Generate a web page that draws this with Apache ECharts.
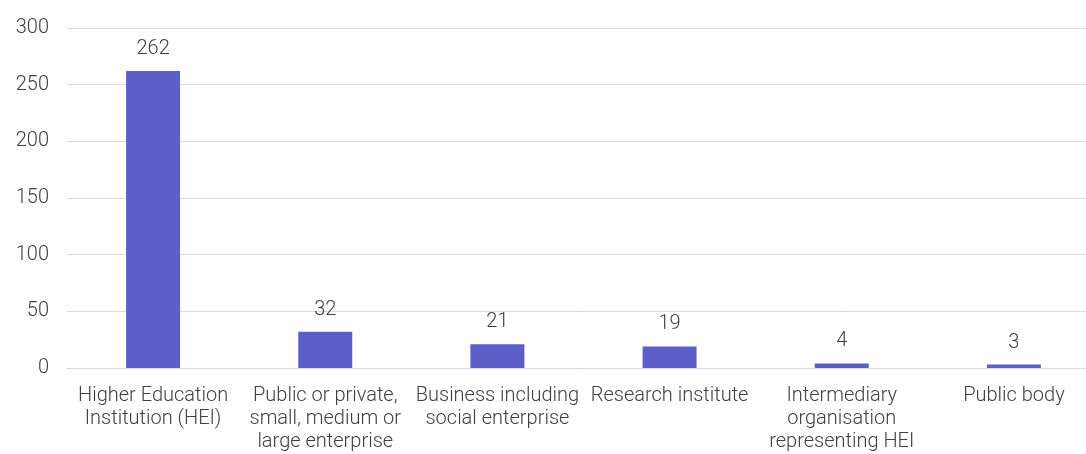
<!DOCTYPE html>
<html>
<head>
<meta charset="utf-8">
<script src="https://cdn.jsdelivr.net/npm/echarts@6/dist/echarts.min.js"></script>
<style>
  html, body { margin: 0; padding: 0; background: #ffffff; overflow: hidden; }
  #chart { width: 1100px; height: 454px; }
</style>
</head>
<body>
<div id="chart"></div>
<script>
// Organisation types and participant counts
const categories = [
  'Higher Education\nInstitution (HEI)',
  'Public or private,\nsmall, medium or\nlarge enterprise',
  'Business including\nsocial enterprise',
  'Research institute',
  'Intermediary\norganisation\nrepresenting HEI',
  'Public body'
];
const counts = [262, 32, 21, 19, 4, 3];
const yTicks = { min: 0, max: 300, step: 50 };

const textColor = '#404040';
const fontFamily = 'Roboto, "Noto Sans", sans-serif';

const chart = echarts.init(document.getElementById('chart'), null, { renderer: 'canvas' });
chart.setOption({
  animation: false,
  grid: { left: 67, top: 28, width: 1033, height: 340, containLabel: false },
  xAxis: {
    type: 'category',
    data: categories,
    axisLine: { show: true, lineStyle: { color: '#d9d9d9', width: 1 } },
    axisTick: { show: false },
    axisLabel: {
      color: textColor, fontFamily, fontSize: 20, fontWeight: 300, lineHeight: 23,
      margin: 16, interval: 0
    }
  },
  yAxis: {
    type: 'value',
    min: yTicks.min, max: yTicks.max, interval: yTicks.step,
    axisLine: { show: false },
    axisTick: { show: false },
    splitLine: { lineStyle: { color: '#d9d9d9', width: 1 } },
    axisLabel: { color: textColor, fontFamily, fontSize: 20, fontWeight: 300, margin: 18 }
  },
  series: [{
    type: 'bar',
    data: counts,
    barWidth: 54,
    itemStyle: { color: '#5b5fc7' },
    label: {
      show: true, position: 'top', distance: 12,
      color: textColor, fontFamily, fontSize: 20, fontWeight: 300
    }
  }]
});
</script>
</body>
</html>
